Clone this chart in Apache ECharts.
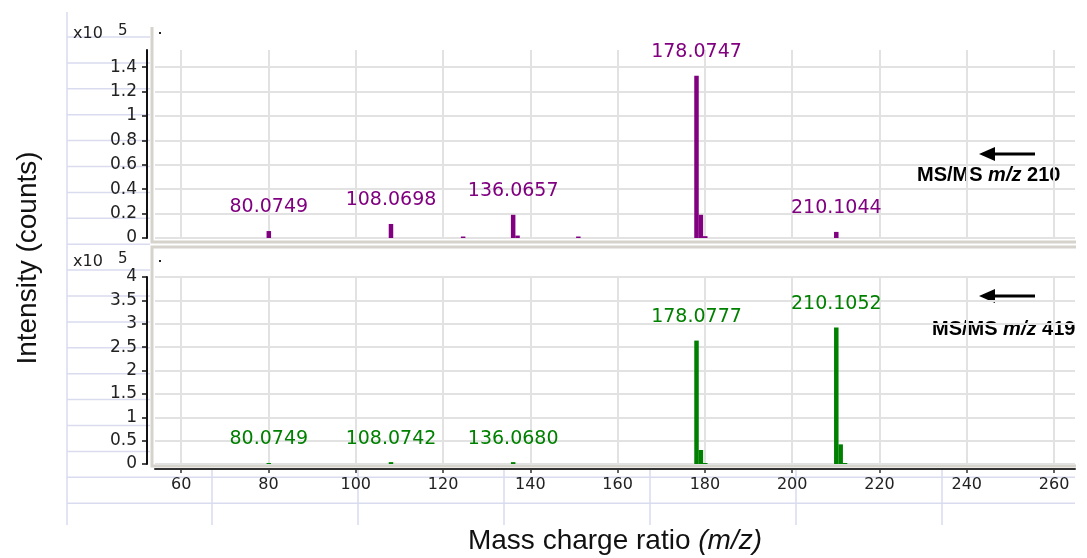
<!DOCTYPE html>
<html>
<head>
<meta charset="utf-8">
<script src="https://cdn.jsdelivr.net/npm/echarts@6.0.0/dist/echarts.min.js"></script>
<style>
html,body{margin:0;padding:0;background:#fff;}
#chart{width:1087px;height:558px;}
</style>
</head>
<body>
<div id="chart"></div>
<script>
// ---- data (intensity in units of 10^5 counts) ----
const xTicks = [60, 80, 100, 120, 140, 160, 180, 200, 220, 240, 260];
const topYTicks = [0, 0.2, 0.4, 0.6, 0.8, 1, 1.2, 1.4];
const botYTicks = [0, 0.5, 1, 1.5, 2, 2.5, 3, 3.5, 4];

const topMz = [80.0749, 108.0698, 124.6, 136.0657, 137.07, 151.0, 178.0747, 179.078, 180.08, 210.1044];
const topInt = [0.057, 0.115, 0.012, 0.19, 0.02, 0.012, 1.33, 0.19, 0.015, 0.05];
const topLabels = ['80.0749', '108.0698', '', '136.0657', '', '', '178.0747', '', '', '210.1044'];

const botMz = [80.0749, 108.0742, 136.0680, 178.0777, 179.08, 180.08, 210.1052, 211.11, 212.11];
const botInt = [0.02, 0.04, 0.04, 2.64, 0.3, 0.02, 2.92, 0.42, 0.02];
const botLabels = ['80.0749', '108.0742', '136.0680', '178.0777', '', '', '210.1052', '', ''];

const topNote = ['MS/MS ', 'm/z', ' 210'];
const botNote = ['MS/MS ', 'm/z', ' 419'];

// ---- styling ----
const PURPLE = '#800080';
const GREEN = '#008000';
const GRIDC = '#e2e2e2';
const EXCEL = '#d9dbef';
const FRAME = '#d6d3cc';
const xTickFont = {fontFamily: 'DejaVu Sans', fontSize: 16, color: '#222'};
const yTickFont = {fontFamily: 'DejaVu Sans', fontSize: 17, color: '#222'};
const peakFont = {fontFamily: 'DejaVu Sans', fontSize: 19};

function fmt(v){ return String(parseFloat(Number(v).toFixed(2))); }

function xAxisCfg(gi, showAxis){
  return {
    gridIndex: gi, type: 'value', min: 54, max: 264.8,
    offset: showAxis ? 5 : 0,
    axisLine: {show: showAxis, onZero: false, lineStyle: {color: '#333', width: 2}},
    axisTick: {show: showAxis, customValues: xTicks, length: 4, lineStyle: {color: '#333', width: 1.5}},
    axisLabel: {show: showAxis, customValues: xTicks, margin: 8, formatter: fmt, ...xTickFont},
    splitLine: {show: true, lineStyle: {color: GRIDC, width: 2}},
    name: showAxis ? 'Mass charge ratio {i|(m/z)}' : '',
    nameLocation: 'middle', nameGap: 58,
    nameTextStyle: {fontFamily: 'Liberation Sans', fontSize: 28, color: '#111',
      rich: {i: {fontFamily: 'Liberation Sans', fontSize: 28, fontStyle: 'italic', color: '#111'}}}
  };
}
function yAxisCfg(gi, max, ticks){
  return {
    gridIndex: gi, type: 'value', min: 0, max: max, offset: 8,
    axisLine: {show: true, lineStyle: {color: '#111', width: 2}},
    axisTick: {show: true, customValues: ticks, length: 5, lineStyle: {color: '#111', width: 1.5}},
    axisLabel: {show: true, customValues: ticks, margin: 10, formatter: fmt, ...yTickFont},
    splitLine: {show: true, lineStyle: {color: GRIDC, width: 2}}
  };
}
function barSeries(gi, mz, inten, labels, color){
  return {
    type: 'bar', xAxisIndex: gi, yAxisIndex: gi,
    data: mz.map((m, i) => [m, inten[i]]),
    barWidth: 4.5, barMinHeight: 1,
    itemStyle: {color: color},
    label: {show: true, position: 'top', distance: 14, color: color, ...peakFont,
      formatter: p => labels[p.dataIndex]},
    emphasis: {disabled: true}, animation: false
  };
}

// ---- decorative background (spreadsheet cells, panel frames, annotations) ----
const graphics = [];
const rowY0 = 37, rowH = 25.9, colX = [67, 212, 358, 504, 650, 796, 942];
for (let k = 0; k <= 18; k++){
  const y = rowY0 + k * rowH;
  const x2 = k >= 17 ? 1075 : 150;
  graphics.push({type: 'line', z: -10, shape: {x1: 67, y1: y, x2: x2, y2: y}, style: {stroke: EXCEL, lineWidth: 1.5}});
}
graphics.push({type: 'line', z: -10, shape: {x1: 67, y1: 12, x2: 67, y2: 525}, style: {stroke: EXCEL, lineWidth: 1.5}});
colX.slice(1).forEach(x => graphics.push({type: 'line', z: -10, shape: {x1: x, y1: 470, x2: x, y2: 525}, style: {stroke: EXCEL, lineWidth: 1.5}}));
// panel frames (left + bottom for the upper panel, left/top/bottom for the lower)
graphics.push({type: 'polyline', z: -5, shape: {points: [[152, 27], [152, 242], [1076, 242]]},
  style: {fill: null, stroke: FRAME, lineWidth: 3}});
graphics.push({type: 'polyline', z: -5, shape: {points: [[1076, 247], [152, 247], [152, 466], [1076, 466]]},
  style: {fill: null, stroke: FRAME, lineWidth: 3}});
// x10^5 markers
[35, 263].forEach(y => {
  graphics.push({type: 'text', left: 73, top: y - 9, style: {text: 'x10', font: '16px "DejaVu Sans"', fill: '#222'}});
  graphics.push({type: 'text', left: 118, top: y - 11, style: {text: '5', font: '15px "DejaVu Sans"', fill: '#222'}});
  graphics.push({type: 'rect', shape: {x: 159, y: y - 3, width: 2, height: 2}, style: {fill: '#222'}});
});
// y axis title
graphics.push({type: 'text', x: 28, y: 258, rotation: Math.PI / 2,
  style: {text: 'Intensity (counts)', font: '28px "Liberation Sans"', fill: '#111', align: 'center', verticalAlign: 'middle'}});
// arrows + panel notes
[[154, 177, topNote, 917], [296, 331, botNote, 932]].forEach(([ay, ty, t, tx]) => {
  graphics.push({type: 'line', shape: {x1: 1035, y1: ay, x2: 990, y2: ay}, style: {stroke: '#000', lineWidth: 3}});
  graphics.push({type: 'polygon', shape: {points: [[979, ay], [995, ay - 7], [995, ay + 7]]}, style: {fill: '#000'}});
  graphics.push({type: 'text', left: tx, top: ty - 12,
    style: {text: '{b|' + t[0] + '}{bi|' + t[1] + '}{b|' + t[2] + '}',
      rich: {b: {fontFamily: 'Liberation Sans', fontWeight: 'bold', fontSize: 20, fill: '#000'},
             bi: {fontFamily: 'Liberation Sans', fontWeight: 'bold', fontStyle: 'italic', fontSize: 20, fill: '#000'}}}});
});

const chart = echarts.init(document.getElementById('chart'), null, {renderer: 'canvas'});
chart.setOption({
  animation: false,
  backgroundColor: '#fff',
  grid: [
    {left: 155, right: 12, top: 50, bottom: 320},
    {left: 155, right: 12, top: 277, bottom: 94}
  ],
  xAxis: [xAxisCfg(0, false), xAxisCfg(1, true)],
  yAxis: [yAxisCfg(0, 1.54, topYTicks), yAxisCfg(1, 4, botYTicks)],
  series: [
    barSeries(0, topMz, topInt, topLabels, PURPLE),
    barSeries(1, botMz, botInt, botLabels, GREEN)
  ],
  graphic: graphics
});
</script>
</body>
</html>
